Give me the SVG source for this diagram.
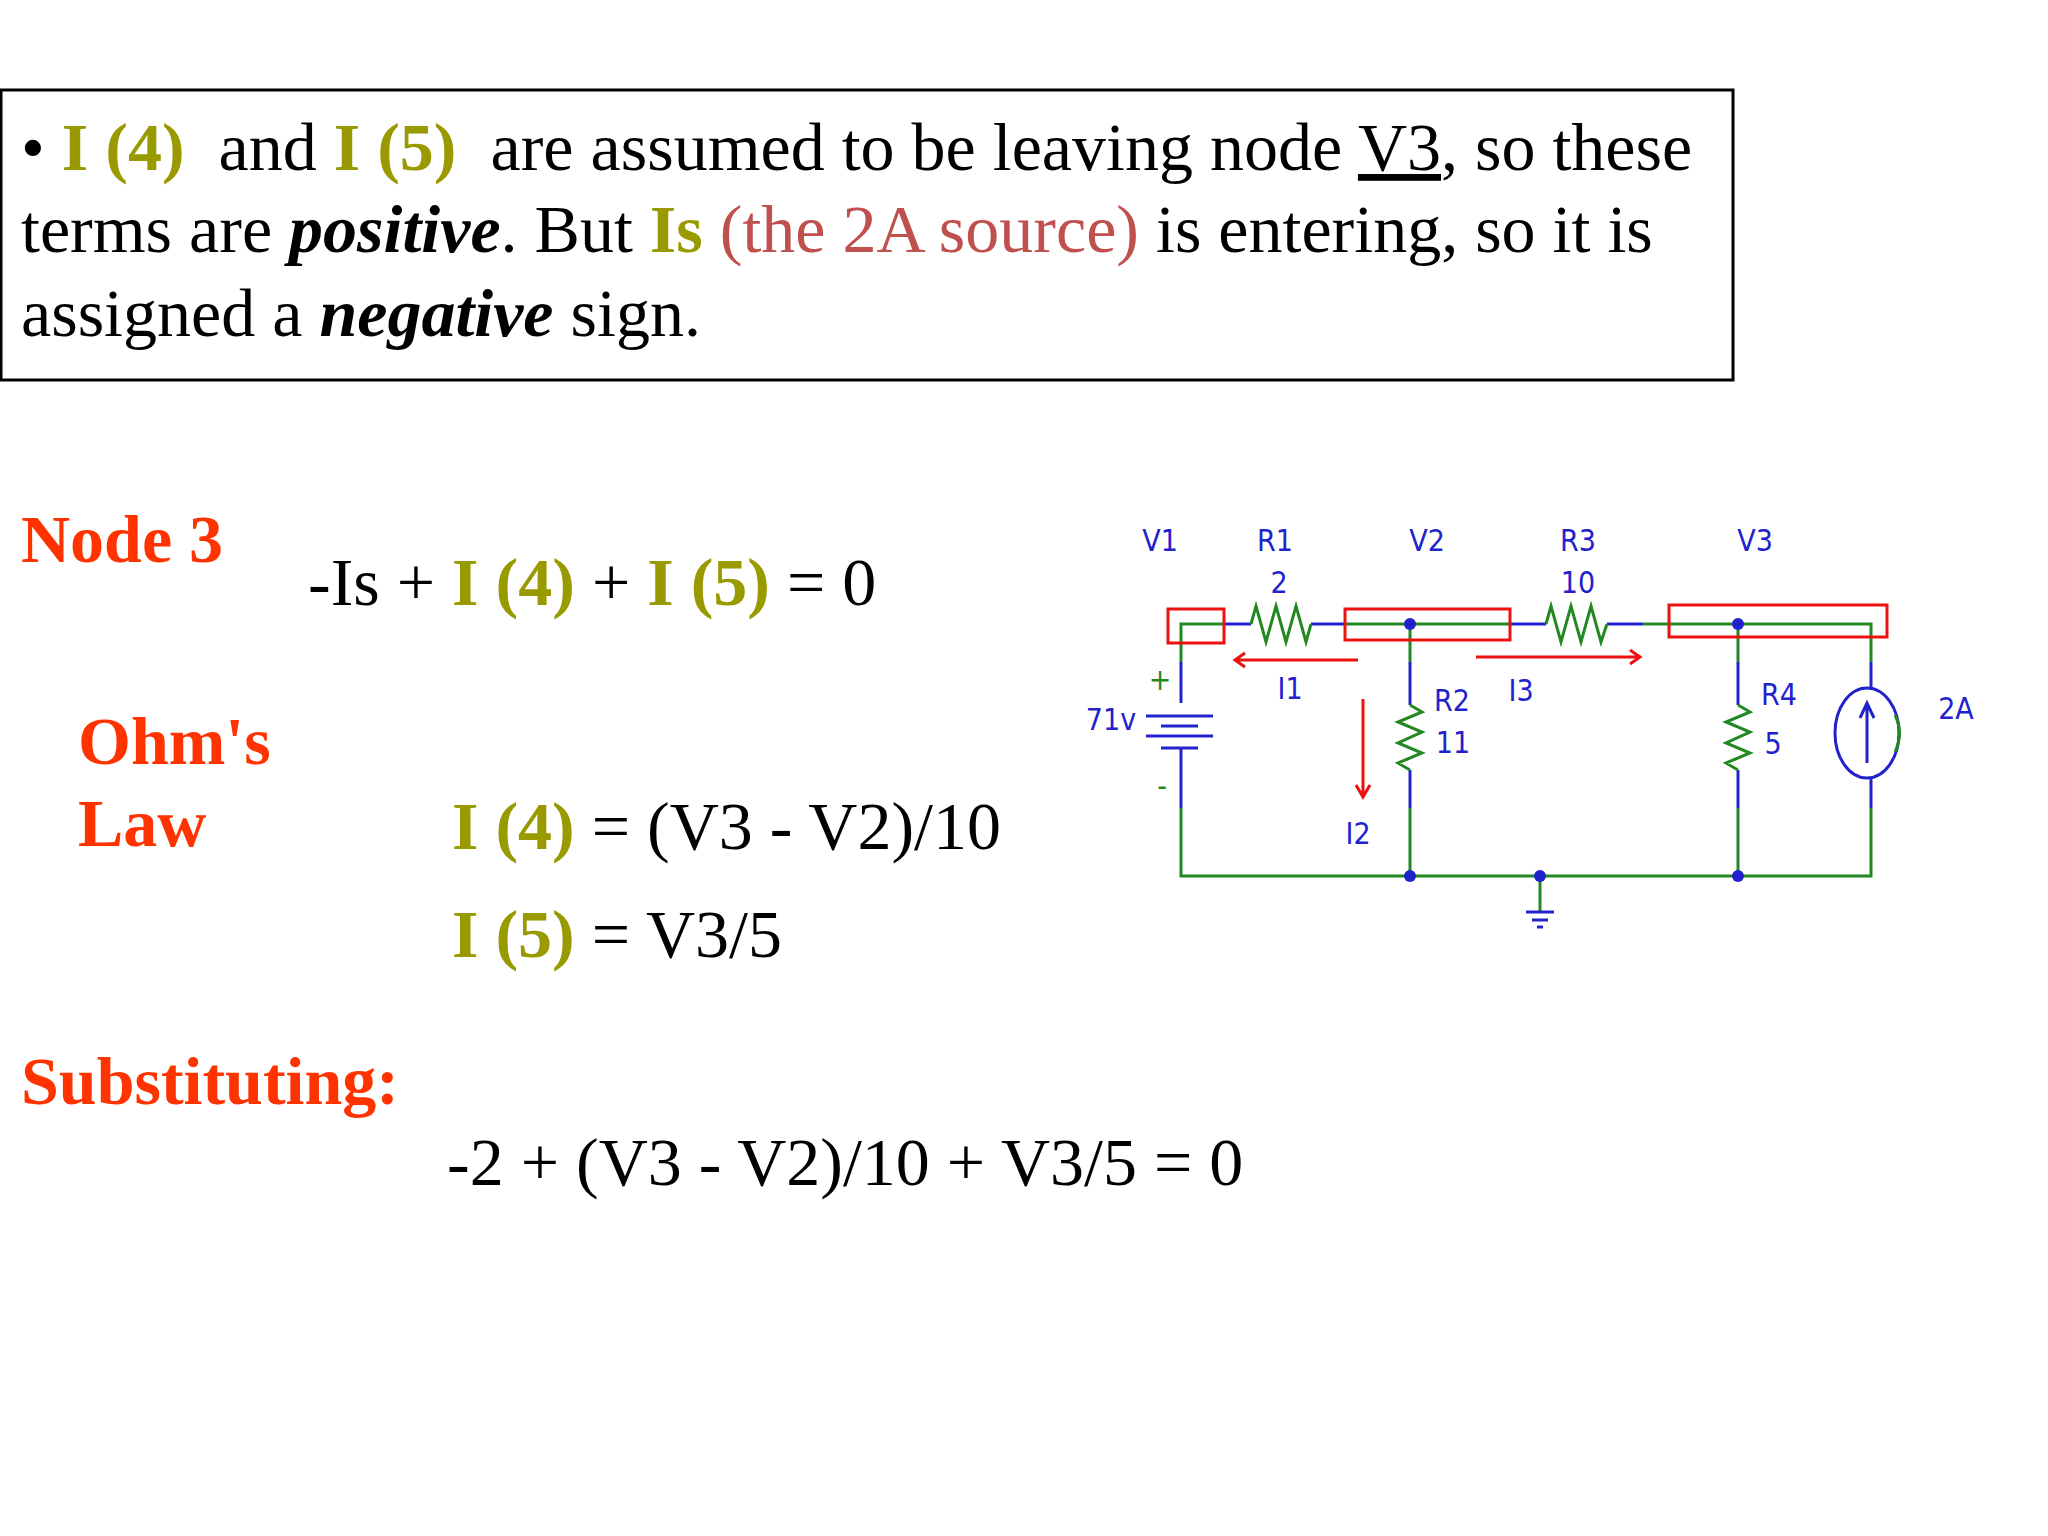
<svg xmlns="http://www.w3.org/2000/svg" width="2048" height="1536" viewBox="0 0 2048 1536">
<style>
.t{font-family:"Liberation Serif",serif;font-size:68px;fill:#000}
.o{fill:#999900;font-weight:bold}
.h{font-family:"Liberation Serif",serif;font-size:68px;font-weight:bold;fill:#ff3300}
.c{font-family:"DejaVu Sans Condensed","DejaVu Sans",sans-serif;font-size:30px;fill:#2222cc;text-anchor:middle}
.g{stroke:#228822;stroke-width:3;fill:none}
.b{stroke:#2222cc;stroke-width:3;fill:none}
.r{stroke:#ee1111;stroke-width:3;fill:none}
.d{fill:#2222cc}
</style>
<rect width="2048" height="1536" fill="#fff"/>
<g id="textbox">
<rect x="1" y="90" width="1732" height="290" fill="none" stroke="#000" stroke-width="3"/>
<text class="t" x="21" y="170" xml:space="preserve">• <tspan class="o">I (4)</tspan>  and <tspan class="o">I (5)</tspan>  are assumed to be leaving node <tspan text-decoration="underline">V3</tspan>, so these</text>
<text class="t" x="21" y="252">terms are <tspan font-weight="bold" font-style="italic">positive</tspan>. But <tspan class="o">Is</tspan> <tspan fill="#c0504d">(the 2A source)</tspan> is entering, so it is</text>
<text class="t" x="21" y="336">assigned a <tspan font-weight="bold" font-style="italic">negative</tspan> sign.</text>
</g>
<g id="equations">
<text class="h" x="21" y="562">Node 3</text>
<text class="t" x="308" y="605">-Is + <tspan class="o">I (4)</tspan> + <tspan class="o">I (5)</tspan> = 0</text>
<text class="h" x="78" y="764">Ohm's</text>
<text class="h" x="78" y="846">Law</text>
<text class="t" x="452" y="849"><tspan class="o">I (4)</tspan> = (V3 - V2)/10</text>
<text class="t" x="452" y="957"><tspan class="o">I (5)</tspan> = V3/5</text>
<text class="h" x="21" y="1104">Substituting:</text>
<text class="t" x="447" y="1185">-2 + (V3 - V2)/10 + V3/5 = 0</text>
</g>
<g id="connectors">
<path class="g" d="M1181 662 V624 H1224 M1345 624 H1511 M1643 624 H1871 V662 M1181 808 V876 H1871 V808 M1410 624 V662 M1410 808 V876 M1738 624 V662 M1738 808 V876 M1540 876 V912"/>
<path class="b" d="M1181 662 V703 M1181 748 V808 M1224 624 H1251 M1311 624 H1345 M1511 624 H1546 M1607 624 H1643 M1410 662 V705 M1410 770 V808 M1738 662 V705 M1738 770 V808 M1871 662 V688 M1871 778 V808"/>
</g>
<g id="battery">
<path class="b" d="M1146 716 H1213 M1161 726 H1198 M1146 736 H1213 M1161 748 H1198"/>
<text x="1160" y="690" class="c" style="fill:#228822">+</text>
<text x="1162" y="796" class="c" style="fill:#228822">-</text>
<text x="1111" y="730" class="c">71v</text>
</g>
<g id="R1"><path class="g" d="M1251 624 L1256 606 L1266 642 L1276 606 L1286 642 L1296 606 L1306 642 L1311 624"/></g>
<g id="R3"><path class="g" d="M1546 624 L1551 606 L1561 642 L1571 606 L1581 642 L1591 606 L1601 642 L1607 624"/></g>
<g id="R2"><path class="g" d="M1410 705 L1422 712 L1398 722 L1422 732 L1398 743 L1422 753 L1398 763 L1410 770"/></g>
<g id="R4"><path class="g" d="M1738 705 L1750 712 L1726 722 L1750 732 L1726 743 L1750 753 L1726 763 L1738 770"/></g>
<g id="source">
<ellipse class="b" cx="1867" cy="733" rx="32" ry="45"/>
<path class="b" d="M1867 763 V703 M1860 718 L1867 703 L1874 718"/>
<path class="g" d="M1895 715 Q1904 733 1895 752"/>
</g>
<g id="ground"><path class="b" d="M1526 912 H1554 M1532 920 H1548 M1537 927 H1543"/></g>
<g id="dots">
<circle class="d" cx="1410" cy="624" r="6"/><circle class="d" cx="1738" cy="624" r="6"/>
<circle class="d" cx="1410" cy="876" r="6"/><circle class="d" cx="1540" cy="876" r="6"/><circle class="d" cx="1738" cy="876" r="6"/>
</g>
<g id="boxes">
<rect class="r" x="1168" y="609" width="56" height="34"/>
<rect class="r" x="1345" y="609" width="165" height="31"/>
<rect class="r" x="1669" y="605" width="218" height="32"/>
</g>
<g id="arrows">
<path class="r" d="M1358 660 H1235 M1245 653 L1235 660 L1245 667"/>
<path class="r" d="M1476 657 H1640 M1630 650 L1640 657 L1630 664"/>
<path class="r" stroke-width="2" d="M1363 699 V797 M1356 785 L1363 797 L1370 785"/>
</g>
<g id="labels">
<text class="c" x="1160" y="551">V1</text><text class="c" x="1275" y="551">R1</text>
<text class="c" x="1427" y="551">V2</text><text class="c" x="1578" y="551">R3</text>
<text class="c" x="1755" y="551">V3</text>
<text class="c" x="1279" y="593">2</text><text class="c" x="1578" y="593">10</text>
<text class="c" x="1290" y="699">I1</text><text class="c" x="1521" y="701">I3</text>
<text class="c" x="1358" y="844">I2</text>
<text class="c" x="1452" y="711">R2</text><text class="c" x="1453" y="753">11</text>
<text class="c" x="1779" y="705">R4</text><text class="c" x="1773" y="754">5</text>
<text class="c" x="1956" y="719">2A</text>
</g>
</svg>
